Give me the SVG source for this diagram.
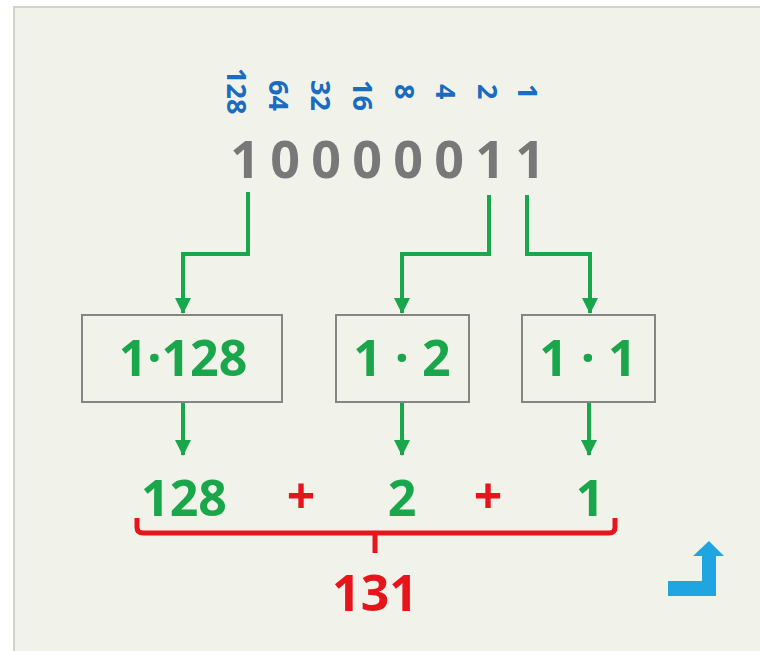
<svg xmlns="http://www.w3.org/2000/svg" width="760" height="651" viewBox="0 0 760 651">
<style>
.w{font-family:"Open Sans","Liberation Sans",sans-serif;font-weight:bold;font-size:27px;fill:#1a6cc0}
.d{font-family:"Open Sans","Liberation Sans",sans-serif;font-weight:bold;font-size:52px;fill:#787878;text-anchor:middle}
.g{font-family:"Open Sans","Liberation Sans",sans-serif;font-weight:bold;font-size:50px;fill:#1aa64b;text-anchor:middle}
.r{font-family:"Open Sans","Liberation Sans",sans-serif;font-weight:bold;font-size:50px;fill:#e8141c;text-anchor:middle}
.box{fill:none;stroke:#858585;stroke-width:2}
.c{fill:none;stroke:#1aa64b;stroke-width:4}
</style>
<defs>
<marker id="ah" markerUnits="userSpaceOnUse" markerWidth="16" markerHeight="16" refX="15" refY="8" orient="auto" viewBox="0 0 16 16">
<path d="M0,0 L16,8 L0,16 Z" fill="#1aa64b"/>
</marker>
</defs>
<rect width="760" height="651" fill="#ffffff"/>
<rect x="14" y="7" width="750" height="650" fill="#f1f3ea" stroke="#d2d4cc" stroke-width="2"/>
<g id="weights">
<text class="w" transform="translate(227,68) rotate(90)">128</text>
<text class="w" transform="translate(269,80) rotate(90)">64</text>
<text class="w" transform="translate(311,80) rotate(90)">32</text>
<text class="w" transform="translate(353,80) rotate(90)">16</text>
<text class="w" transform="translate(395,84) rotate(90)">8</text>
<text class="w" transform="translate(436,84) rotate(90)">4</text>
<text class="w" transform="translate(478,84) rotate(90)">2</text>
<text class="w" transform="translate(518,84) rotate(90)">1</text>
</g>
<g id="binary">
<text class="d" x="245" y="178">1</text>
<text class="d" x="285" y="178">0</text>
<text class="d" x="326" y="178">0</text>
<text class="d" x="367" y="178">0</text>
<text class="d" x="408" y="178">0</text>
<text class="d" x="449" y="178">0</text>
<text class="d" x="490" y="178">1</text>
<text class="d" x="530" y="178">1</text>
</g>
<g id="connectors">
<path class="c" d="M248,192 V254 H183 V313" marker-end="url(#ah)"/>
<path class="c" d="M489,195 V254 H402 V313" marker-end="url(#ah)"/>
<path class="c" d="M527,195 V254 H590 V313" marker-end="url(#ah)"/>
<path class="c" d="M183,402 V455" marker-end="url(#ah)"/>
<path class="c" d="M402,402 V455" marker-end="url(#ah)"/>
<path class="c" d="M589,402 V455" marker-end="url(#ah)"/>
</g>
<g id="box1">
<rect class="box" x="82" y="315" width="200" height="87"/>
<text class="g" x="183" y="376">1·128</text>
</g>
<g id="box2">
<rect class="box" x="336" y="315" width="133" height="87"/>
<text class="g" x="402" y="376">1 · 2</text>
</g>
<g id="box3">
<rect class="box" x="522" y="315" width="133" height="87"/>
<text class="g" x="588" y="376">1 · 1</text>
</g>
<g id="sum">
<text class="g" x="184" y="516">128</text>
<text class="r" x="301" y="514">+</text>
<text class="g" x="402" y="516">2</text>
<text class="r" x="488" y="514">+</text>
<text class="g" x="590" y="516">1</text>
<path d="M137,518 V527 Q137,533 143,533 H609 Q615,533 615,527 V518 M375,533 V553" fill="none" stroke="#e8141c" stroke-width="5"/>
<text class="r" x="375" y="611">131</text>
</g>
<g id="icon">
<path d="M668,581 H702 V556 H693 L709,541 L724,556 H716 V596 H668 Z" fill="#1ea5e2"/>
</g>
</svg>
